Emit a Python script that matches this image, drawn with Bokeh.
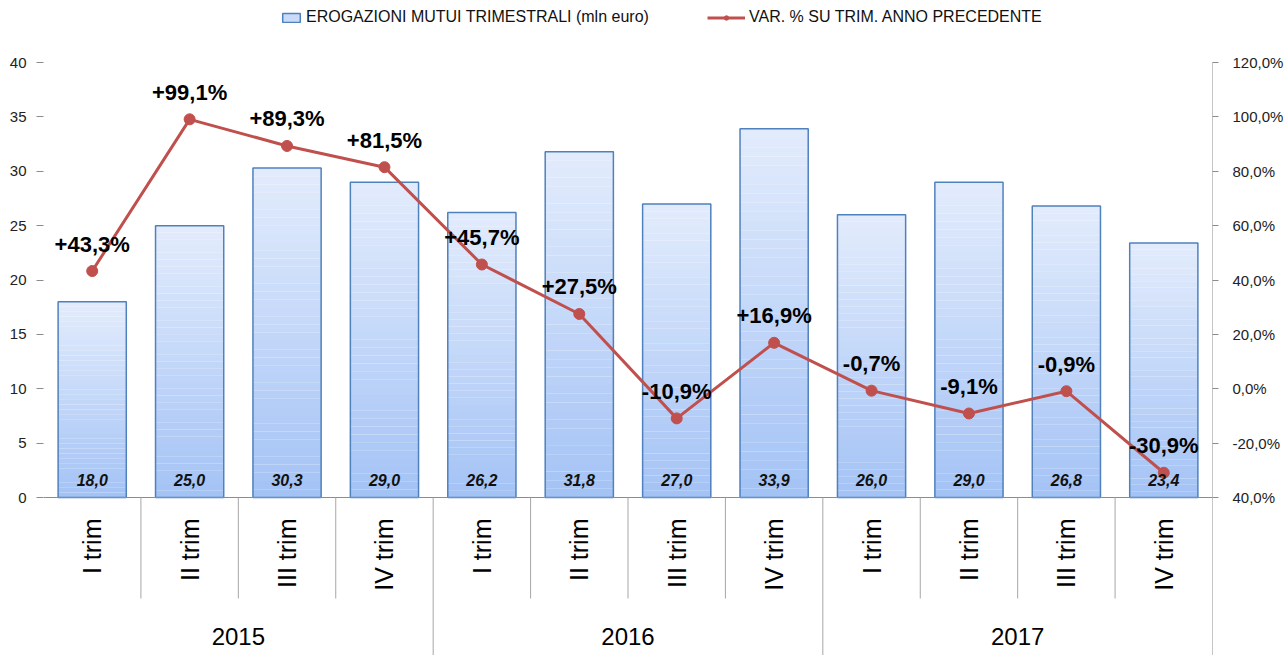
import math
from bokeh.plotting import figure
from bokeh.models import (Range1d, LinearAxis, FixedTicker, ColumnDataSource, Legend, LegendItem)
from bokeh.core.properties import value
from bokeh.embed import file_html
from bokeh.resources import INLINE

# ---- data ----
quarters = ["I trim", "II trim", "III trim", "IV trim"] * 3
years = ["2015", "2016", "2017"]
erogazioni = [18.0, 25.0, 30.3, 29.0, 26.2, 31.8, 27.0, 33.9, 26.0, 29.0, 26.8, 23.4]
var_pct = [43.3, 99.1, 89.3, 81.5, 45.7, 27.5, -10.9, 16.9, -0.7, -9.1, -0.9, -30.9]
left_ticks = [0, 5, 10, 15, 20, 25, 30, 35, 40]
right_ticks = [-40, -20, 0, 20, 40, 60, 80, 100, 120]
right_tick_labels = ["40,0%", "-20,0%", "0,0%", "20,0%", "40,0%", "60,0%", "80,0%", "100,0%", "120,0%"]
legend_bar = "EROGAZIONI MUTUI TRIMESTRALI (mln euro)"
legend_line = "VAR. % SU TRIM. ANNO PRECEDENTE"

W, H = 1287, 655
frame_top_px, axis_px, frame_bottom_px = 0, 497, 655
y40_px = 62
px_per_left = (axis_px - y40_px) / 40.0
px_per_right = (axis_px - y40_px) / 160.0
left_top = 40 + (y40_px - frame_top_px) / px_per_left
left_bot = -(frame_bottom_px - axis_px) / px_per_left
right_top = 120 + (y40_px - frame_top_px) / px_per_right
right_bot = -40 - (frame_bottom_px - axis_px) / px_per_right

n = len(erogazioni)
p = figure(width=W, height=H, output_backend="svg", toolbar_location=None,
           x_range=Range1d(0, n), y_range=Range1d(left_bot, left_top),
           min_border_left=43, min_border_right=75, min_border_top=0, min_border_bottom=0,
           outline_line_color=None, background_fill_color="white", border_fill_color="white")
p.xaxis.visible = False
p.xgrid.visible = False
p.ygrid.visible = False
p.extra_y_ranges = {"pct": Range1d(right_bot, right_top)}

# left axis
ya = p.yaxis[0]
ya.ticker = FixedTicker(ticks=left_ticks)
ya.axis_line_color = None
ya.major_tick_out = 7
ya.major_tick_in = 0
ya.minor_tick_line_color = None
ya.major_tick_line_color = "#8c8c8c"
ya.major_label_text_font = "Liberation Sans"
ya.major_label_text_font_size = "15px"
ya.major_label_text_color = "#222222"
ya.major_label_standoff = 10

# right axis
ra = LinearAxis(y_range_name="pct", ticker=FixedTicker(ticks=right_ticks))
ra.major_label_overrides = {t: lab for t, lab in zip(right_ticks, right_tick_labels)}
ra.axis_line_color = None
ra.major_tick_out = 6
ra.major_tick_in = 0
ra.minor_tick_line_color = None
ra.major_tick_line_color = "#8c8c8c"
ra.major_label_text_font = "Liberation Sans"
ra.major_label_text_font_size = "15px"
ra.major_label_text_color = "#222222"
ra.major_label_standoff = 14
p.add_layout(ra, "right")

# gradient bars
top_c = (0xE3, 0xEC, 0xFC)
bot_c = (0xA3, 0xC2, 0xF5)
NB = 40
bw = 0.7
L, R, B, T, C = [], [], [], [], []
for i, v in enumerate(erogazioni):
    for k in range(NB):
        f = (k + 0.5) / NB
        col = tuple(int(round(bot_c[j] + (top_c[j] - bot_c[j]) * f)) for j in range(3))
        L.append(i + 0.5 - bw / 2)
        R.append(i + 0.5 + bw / 2)
        B.append(v * k / NB)
        T.append(v * (k + 1) / NB + 0.001)
        C.append("#%02x%02x%02x" % col)
p.quad(left=L, right=R, bottom=B, top=T, fill_color=C, line_color=None)

xs = [i + 0.5 for i in range(n)]
src = ColumnDataSource(dict(x=xs, v=erogazioni, vl=[f"{v:.1f}".replace(".", ",") for v in erogazioni],
                            pc=var_pct, pl=[("+" if v > 0 else "") + f"{v:.1f}".replace(".", ",") + "%" for v in var_pct],
                            q=quarters))
p.vbar(x="x", top="v", bottom=0, width=bw, source=src, fill_color=None, line_color="#4f81bd", line_width=1.5)

# axis line & separators
p.segment(x0=[0], y0=[0], x1=[n], y1=[0], line_color="#8c8c8c", line_width=1)
sep_short = [i for i in range(1, n) if i % 4 != 0]
sep_long = [i for i in range(1, n) if i % 4 == 0]
cat_sep_len = -101 / px_per_left
p.segment(x0=sep_short, y0=[0] * len(sep_short), x1=sep_short, y1=[cat_sep_len] * len(sep_short),
          line_color="#a6a6a6", line_width=1)
p.segment(x0=sep_long, y0=[0] * len(sep_long), x1=sep_long, y1=[left_bot] * len(sep_long),
          line_color="#a6a6a6", line_width=1)
p.segment(x0=[n], y0=[40], x1=[n], y1=[left_bot], line_color="#8c8c8c", line_width=1)

# line
lr = p.line(x="x", y="pc", source=src, y_range_name="pct", line_color="#c0504d", line_width=3)
cr = p.scatter(x="x", y="pc", source=src, y_range_name="pct", size=11, fill_color="#c0504d", line_color="#c0504d")

# bar labels
p.text(x="x", y=0, text="vl", source=src, y_offset=-18, text_align="center", text_baseline="middle",
       text_font=value("Liberation Sans"), text_font_style="bold italic", text_font_size="16px", text_color="#111111")

p.text(x="x", y="pc", text="pl", source=src, y_range_name="pct", y_offset=-27, text_align="center",
       text_baseline="middle", text_font=value("Liberation Sans"), text_font_style="bold",
       text_font_size="22px", text_color="#000000")

# category labels
p.text(x="x", y=0, text="q", source=src, y_offset=21, angle=math.pi / 2, text_align="right",
       text_baseline="middle", text_font=value("Liberation Sans"), text_font_size="25px", text_color="#000000")
year_x = [4 * j + 2 for j in range(len(years))]
p.text(x=year_x, y=[0] * len(years), text=years, y_offset=139, text_align="center", text_baseline="middle",
       text_font=value("Liberation Sans"), text_font_size="24px", text_color="#000000")

# legends
nan = float("nan")
leg_bar_r = p.vbar(x=[nan], top=[nan], width=0.5, fill_color="#c9dbf8", line_color="#4f81bd", line_width=1.5)
leg1 = Legend(items=[LegendItem(label=legend_bar, renderers=[leg_bar_r], index=0)], location=(237, 629),
              glyph_width=22, glyph_height=11, label_standoff=4, padding=0, margin=0, spacing=0,
              border_line_color=None, background_fill_alpha=0, label_text_font="Liberation Sans",
              label_text_font_size="16px", label_height=16, label_text_color="#111111")
leg2 = Legend(items=[LegendItem(label=legend_line, renderers=[lr, cr])], location=(664, 629),
              glyph_width=38, glyph_height=11, label_standoff=4, padding=0, margin=0, spacing=0,
              border_line_color=None, background_fill_alpha=0, label_text_font="Liberation Sans",
              label_text_font_size="16px", label_height=16, label_text_color="#111111")
p.add_layout(leg1)
p.add_layout(leg2)

open("out.html", "w").write(file_html(p, INLINE))
